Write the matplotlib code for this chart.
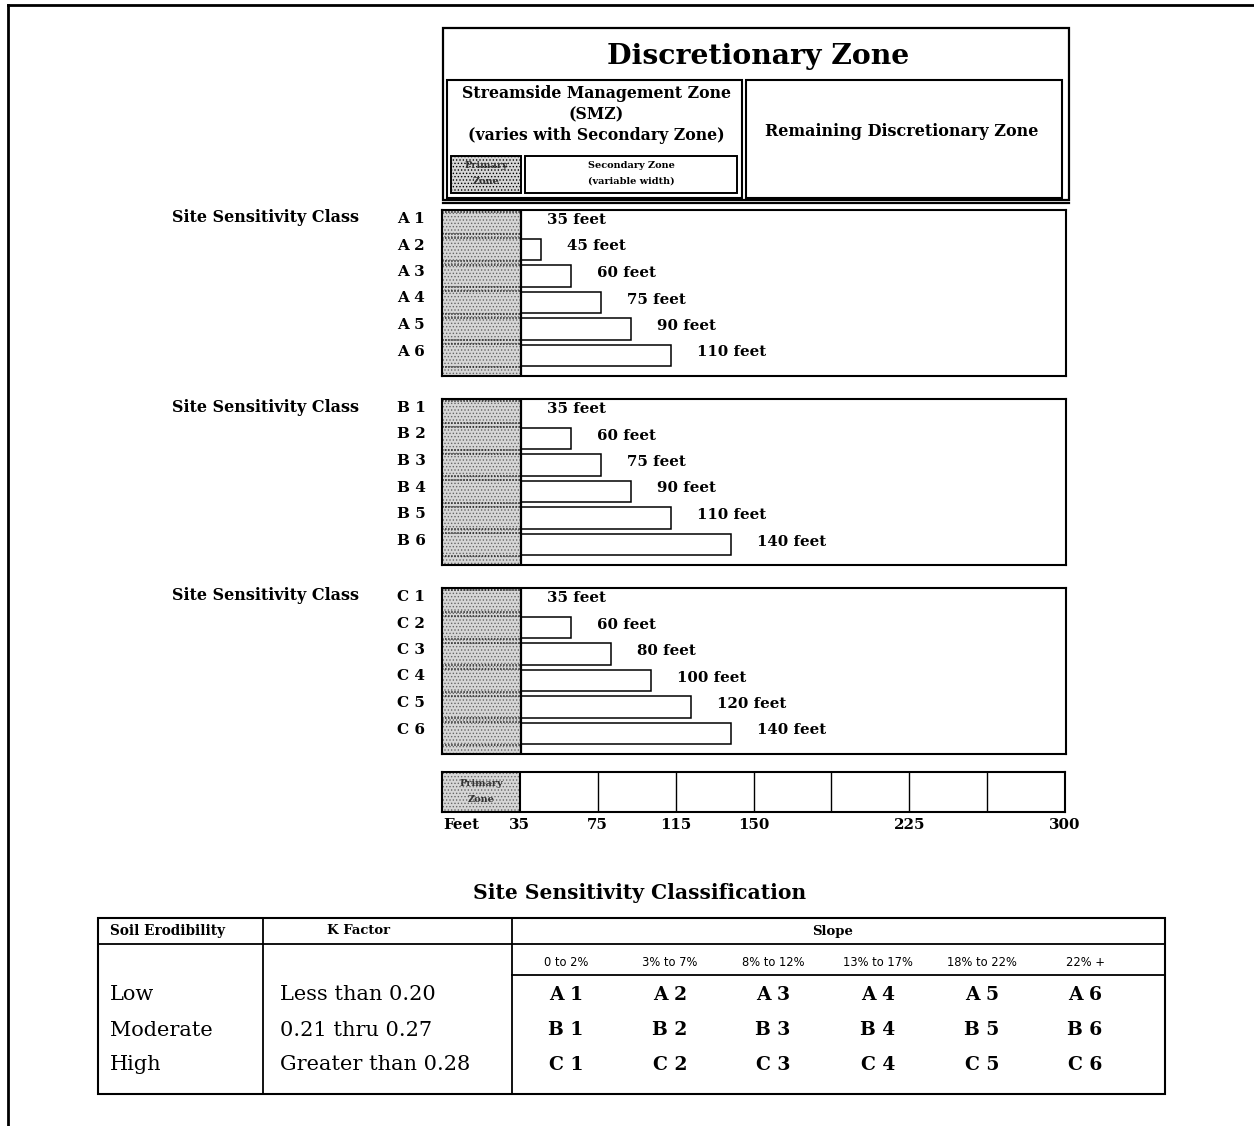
import numpy as np
import matplotlib
matplotlib.use("Agg")
import matplotlib.pyplot as plt
from matplotlib.patches import Rectangle

# ---------------- data ----------------
groups = ["A", "B", "C"]
row_numbers = [1, 2, 3, 4, 5, 6]
buffer_A = [35, 45, 60, 75, 90, 110]
buffer_B = [35, 60, 75, 90, 110, 140]
buffer_C = [35, 60, 80, 100, 120, 140]
primary_width = 35
scale_labels = ["35", "75", "115", "150", "", "225", "", "300"]

erodibility = ["Low", "Moderate", "High"]
k_factor = ["Less than 0.20", "0.21 thru 0.27", "Greater than 0.28"]
slopes = ["0 to 2%", "3% to 7%", "8% to 12%", "13% to 17%", "18% to 22%", "22% +"]

W, H = 1254, 1126
plt.rcParams['hatch.color'] = '#666666'
plt.rcParams['hatch.linewidth'] = 0.6
SERIF = ["DejaVu Serif"]
STIP = '#d6d6d6'

fig = plt.figure(figsize=(W / 100, H / 100), dpi=100)
cv = fig.add_axes([0, 0, 1, 1])
cv.set_xlim(0, W)
cv.set_ylim(H, 0)
cv.axis("off")


def box(x0, y0, x1, y1, lw=1.5, fc="none", hatch=None, z=1):
    cv.add_patch(Rectangle((x0, y0), x1 - x0, y1 - y0, fill=(fc != "none"),
                           facecolor=fc, edgecolor="black", lw=lw, hatch=hatch, zorder=z))


def txt(x, y, s, size, ha="center", weight="bold", **kw):
    cv.text(x, y, s, fontsize=size, ha=ha, va="center", weight=weight,
            family=SERIF, **kw)


# page border
cv.plot([8, W], [5, 5], color="black", lw=2)
cv.plot([8, 8], [5, H], color="black", lw=2)

# ---------------- header ----------------
box(443, 28, 1069, 200, lw=1.6)
cv.plot([443, 1069], [203, 203], color="black", lw=1.6)
txt(758, 57, "Discretionary Zone", 20.3)
box(447, 80, 742, 198, lw=1.5)
box(746, 80, 1062, 198, lw=1.5)
txt(596, 94, "Streamside Management Zone", 11.3)
txt(596, 115, "(SMZ)", 11.3)
txt(596, 136, "(varies with Secondary Zone)", 11.3)
txt(902, 132, "Remaining Discretionary Zone", 11.5)
box(451, 156, 521, 193, lw=1.4, fc=STIP, hatch=".....")
txt(486, 166, "Primary", 7, color="#333333")
txt(486, 182, "Zone", 7, color="#333333")
box(525, 156, 737, 193, lw=1.4)
txt(631, 166, "Secondary Zone", 7)
txt(631, 181, "(variable width)", 7)

# ---------------- bar groups ----------------
PX_PRIMARY = 79.0
PX_PER_FT = 2.0


def fwd(x):
    x = np.asarray(x, dtype=float)
    return np.where(x <= primary_width, x * PX_PRIMARY / primary_width,
                    PX_PRIMARY + (x - primary_width) * PX_PER_FT)


def inv(p):
    p = np.asarray(p, dtype=float)
    return np.where(p <= PX_PRIMARY, p * primary_width / PX_PRIMARY,
                    primary_width + (p - PX_PRIMARY) / PX_PER_FT)


box_x0, box_x1 = 442, 1066
xmax_ft = float(inv(box_x1 - box_x0))
group_tops = [210, 399, 588]
group_h = 166
row_sp = 26.5
first_off = 13

for g, top, vals in zip(groups, group_tops, [buffer_A, buffer_B, buffer_C]):
    ax = fig.add_axes([box_x0 / W, 1 - (top + group_h) / H,
                       (box_x1 - box_x0) / W, group_h / H])
    ax.set_xscale("function", functions=(fwd, inv))
    ax.set_xlim(0, xmax_ft)
    ylo = -first_off / row_sp
    yhi = (group_h - first_off) / row_sp
    ax.set_ylim(yhi, ylo)
    ax.set_xticks([])
    ax.set_yticks([])
    for s in ax.spines.values():
        s.set_linewidth(1.5)
    rows = np.arange(len(vals))
    # primary zone stipple
    ax.axvspan(0, primary_width, facecolor=STIP, hatch=".....", edgecolor="#666666", lw=0, zorder=1)
    ax.axvline(primary_width, color="black", lw=1.6, zorder=3)
    for r in rows:
        for yy in (r - 0.42, r + 0.42):
            ax.plot([0, primary_width], [yy, yy], color="#222222", lw=1.1,
                    ls=(0, (1, 1)), zorder=2)
    widths = [v - primary_width for v in vals]
    ax.barh(rows, widths, left=primary_width, height=0.8, facecolor="white",
            edgecolor="black", lw=1.1, zorder=2)
    for r, v in zip(rows, vals):
        ax.annotate(f"{v} feet", xy=(v, r), xytext=(26, 3), textcoords="offset pixels",
                    ha="left", va="center", fontsize=10.8, weight="bold", family=SERIF)
        fig.text(397 / W, 1 - (top + first_off + r * row_sp - 4) / H, f"{g} {row_numbers[r]}",
                 ha="left", va="center", fontsize=11, weight="bold", family=SERIF)
    fig.text(172 / W, 1 - (top + first_off - 5) / H, "Site Sensitivity Class",
             ha="left", va="center", fontsize=11.5, weight="bold", family=SERIF)

# ---------------- scale bar ----------------
sx = fig.add_axes([442 / W, 1 - 812 / H, 623 / W, 40 / H])
n_sec = len(scale_labels)
sx.set_xlim(0, n_sec)
sx.set_ylim(0, 1)
sx.set_yticks([])
for s in sx.spines.values():
    s.set_linewidth(1.5)
sx.axvspan(0, 1, facecolor=STIP, hatch=".....", edgecolor="#666666", lw=0)
for i in range(1, n_sec):
    sx.axvline(i, color="black", lw=1.5 if i == 1 else 1.0)
sx.text(0.5, 0.72, "Primary", ha="center", va="center", fontsize=7,
        weight="bold", family=SERIF, color="#333333")
sx.text(0.5, 0.3, "Zone", ha="center", va="center", fontsize=7,
        weight="bold", family=SERIF, color="#333333")
sx.set_xticks(np.arange(1, n_sec + 1))
sx.set_xticklabels(scale_labels, fontsize=10.8, weight="bold", family=SERIF)
sx.tick_params(axis="x", length=0, pad=4)
sx.text(0.25, -0.32, "Feet", ha="center", va="center", fontsize=10.8,
        weight="bold", family=SERIF, transform=sx.transData)

# ---------------- classification table ----------------
txt(640, 893, "Site Sensitivity Classification", 14.6)
tx0, tx1, ty0, ty1 = 98, 1165, 918, 1094
box(tx0, ty0, tx1, ty1, lw=1.5)
cv.plot([tx0, tx1], [944, 944], color="black", lw=1.3)
cv.plot([263, 263], [ty0, ty1], color="black", lw=1.3)
cv.plot([512, 512], [ty0, ty1], color="black", lw=1.3)
cv.plot([512, tx1], [975, 975], color="black", lw=1.3)
txt(110, 931, "Soil Erodibility", 9.8, ha="left")
txt(359, 931, "K Factor", 9.5)
txt(833, 932, "Slope", 9.5)
col_x = [566, 670, 773, 878, 982, 1085]
row_y = [995, 1030, 1065]
for cx, sl in zip(col_x, slopes):
    cv.text(cx, 963, sl, fontsize=8.3, ha="center", va="center", family=["DejaVu Sans"])
for ry, er, kf, g in zip(row_y, erodibility, k_factor, groups):
    txt(110, ry, er, 15, ha="left", weight="normal")
    txt(280, ry, kf, 15, ha="left", weight="normal")
    for cx, n in zip(col_x, row_numbers):
        txt(cx, ry, f"{g} {n}", 13.5)

fig.savefig("out.png", dpi=100)
